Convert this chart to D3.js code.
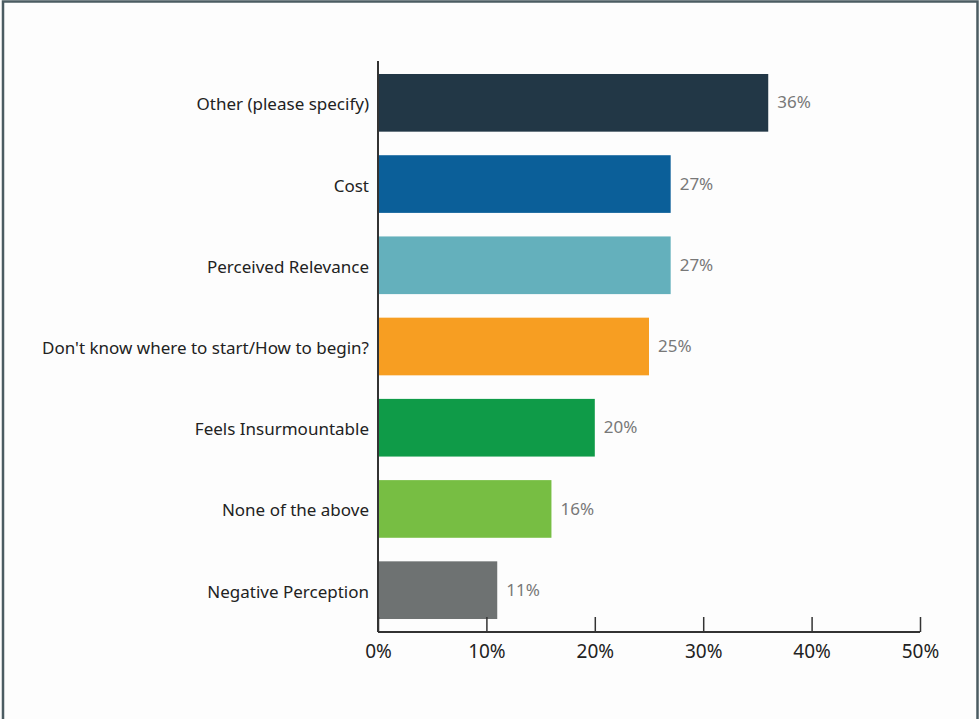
<!DOCTYPE html>
<html>
<head>
<meta charset="utf-8">
<script src="https://cdn.jsdelivr.net/npm/d3@7"></script>
<style>
  html, body { margin: 0; padding: 0; background: #fdfdfd; }
  svg { display: block; }
</style>
</head>
<body>
<svg id="chart" width="980" height="719"></svg>
<script>
// Survey responses: barriers, share of respondents (%)
const categories = [
  "Other (please specify)",
  "Cost",
  "Perceived Relevance",
  "Don't know where to start/How to begin?",
  "Feels Insurmountable",
  "None of the above",
  "Negative Perception"
];
const values = [36, 27, 27, 25, 20, 16, 11];
const barColors = ["#223746", "#0b5f99", "#64b0bc", "#f79e22", "#0f9b48", "#77be43", "#6e7272"];
const tickValues = [0, 10, 20, 30, 40, 50];

(function draw() {
  const svg = d3.select("#chart");
  const W = 980, H = 719;
  const fontFamily = "'Noto Sans', 'Open Sans', sans-serif";

  // outer frame
  svg.append("rect")
    .attr("x", 3).attr("y", 1.5)
    .attr("width", W - 5.5).attr("height", H + 10)
    .attr("fill", "#fdfdfd")
    .attr("stroke", "#4b5c62").attr("stroke-width", 2.5);

  const plotLeft = 378, plotRight = 920, plotTop = 61, plotBottom = 632;

  const x = d3.scaleLinear().domain([0, 50]).range([plotLeft, plotRight]);
  const y = d3.scaleBand().domain(categories).range([plotTop, plotBottom])
    .paddingInner(0.29).paddingOuter(0.16);

  // bars
  svg.append("g").selectAll("rect")
    .data(values)
    .join("rect")
    .attr("x", x(0))
    .attr("y", (d, i) => y(categories[i]))
    .attr("width", d => x(d) - x(0))
    .attr("height", y.bandwidth())
    .attr("fill", (d, i) => barColors[i]);

  // value labels
  svg.append("g").selectAll("text")
    .data(values)
    .join("text")
    .attr("x", d => x(d) + 9)
    .attr("y", (d, i) => y(categories[i]) + y.bandwidth() / 2 + 1)
    .attr("dominant-baseline", "middle")
    .attr("font-family", fontFamily)
    .attr("font-size", 17)
    .attr("fill", "#787878")
    .text(d => d + "%");

  // category axis
  const yAxis = svg.append("g")
    .attr("transform", `translate(${plotLeft},2)`)
    .call(d3.axisLeft(y).tickSize(0).tickPadding(9));
  yAxis.select(".domain").remove();
  yAxis.selectAll("text")
    .attr("font-family", fontFamily)
    .attr("font-size", 17)
    .attr("fill", "#222")
    .attr("dy", "0.32em");

  svg.append("line")
    .attr("x1", plotLeft).attr("x2", plotLeft)
    .attr("y1", plotTop).attr("y2", plotBottom)
    .attr("stroke", "#333").attr("stroke-width", 2);

  // value axis
  const xAxis = svg.append("g")
    .attr("transform", `translate(0,${plotBottom})`)
    .call(d3.axisBottom(x).tickValues(tickValues).tickFormat(d => d + "%").tickSize(-15).tickPadding(13));
  xAxis.select(".domain")
    .attr("d", `M${plotLeft},0H${plotRight}`)
    .attr("stroke", "#333").attr("stroke-width", 2);
  xAxis.selectAll(".tick line").attr("stroke", "#333").attr("stroke-width", 1.5);
  xAxis.selectAll("text")
    .attr("font-family", fontFamily)
    .attr("font-size", 19)
    .attr("fill", "#222")
    .attr("dy", "0.71em");
})();
</script>
</body>
</html>
